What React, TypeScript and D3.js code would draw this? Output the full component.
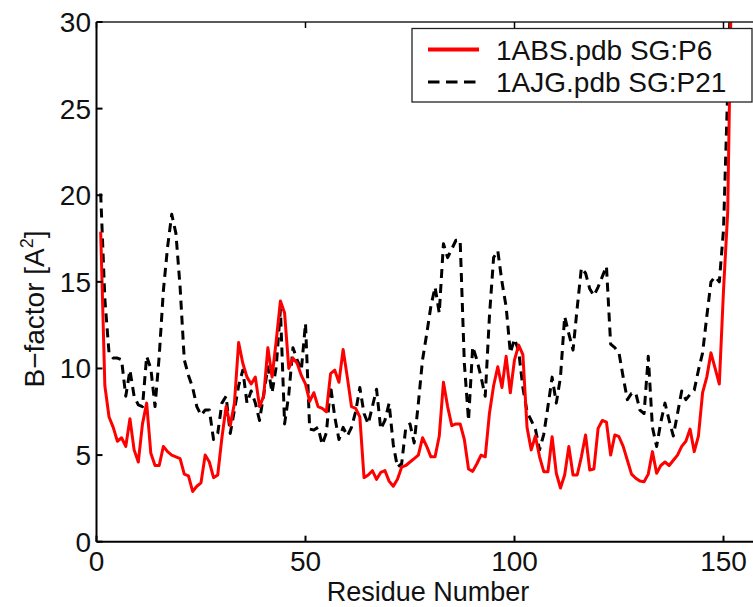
import React from "react";
import * as d3 from "d3";

const residues: number[] = Array.from({ length: 152 }, (_, i) => i + 1);

const abs1: number[] = [
  17.9, 9.0, 7.2, 6.6, 5.8, 6.0, 5.5, 7.1, 5.3, 4.6,
  6.8, 8.0, 5.1, 4.4, 4.4, 5.5, 5.2, 5.0, 4.9, 4.8,
  3.9, 3.8, 2.9, 3.2, 3.4, 5.0, 4.6, 3.7, 3.85, 6.0,
  7.8, 6.7, 8.0, 11.5, 10.3, 9.5, 9.1, 9.5, 7.8, 8.4,
  11.2, 9.5, 11.6, 13.9, 13.2, 10.0, 10.6, 10.3, 9.6, 9.1,
  8.1, 8.6, 7.8, 7.7, 7.5, 9.7, 9.9, 9.2, 11.1, 9.5,
  7.8, 7.7, 7.2, 3.7, 3.85, 4.1, 3.6, 4.0, 4.1, 3.5,
  3.2, 3.6, 4.3, 4.4, 4.6, 4.8, 5.0, 6.0, 5.5, 4.9,
  4.9, 6.1, 9.2, 7.8, 6.7, 6.8, 6.8, 5.9, 4.2, 4.06,
  4.5, 5.0, 4.9, 7.4, 9.0, 10.1, 8.9, 10.7, 8.6, 10.5,
  11.35, 10.8, 6.6, 5.3, 6.1, 4.9, 4.04, 4.04, 6.06, 3.95,
  3.1, 3.85, 5.5, 3.85, 3.85, 4.9, 6.16, 4.14, 4.2, 6.54,
  7.0, 6.9, 5.0, 6.16, 6.06, 5.5, 4.7, 3.9, 3.66, 3.5,
  3.46, 3.9, 5.2, 3.95, 4.4, 4.6, 4.4, 4.7, 5.0, 5.5,
  5.8, 6.5, 5.2, 6.1, 8.6, 9.5, 10.9, 10.0, 9.1, 14.5,
  19.0, 34.0,
];

const ajg1: number[] = [
  20.1, 14.0, 10.9, 10.6, 10.6, 10.5, 8.4, 9.9, 8.4, 7.9,
  7.8, 10.7, 10.0, 7.8, 10.7, 14.5, 17.0, 18.9, 17.8, 14.7,
  10.5, 9.6, 8.9, 7.8, 7.3, 7.6, 7.6, 5.9, 6.25, 8.0,
  8.4, 6.25, 7.6, 9.0, 9.9, 8.0, 8.7, 8.0, 7.0, 8.5,
  10.1, 8.6, 10.1, 13.4, 6.8, 8.5, 11.2, 10.5, 9.9, 12.6,
  6.5, 6.45, 6.6, 5.6, 6.3, 9.0, 7.2, 5.9, 6.6, 6.1,
  6.6, 7.5, 8.9, 7.4, 6.8, 7.8, 8.8, 6.5, 7.0, 8.0,
  5.6, 4.3, 4.5, 6.6, 6.8, 5.7, 8.0, 10.5, 12.0, 13.6,
  14.7, 13.2, 17.2, 16.4, 16.9, 17.4, 17.4, 10.3, 7.0, 11.25,
  10.5, 9.5, 8.4, 13.0, 16.4, 16.8, 15.0, 13.56, 10.9, 11.7,
  11.0, 8.9, 7.5, 7.0, 6.5, 5.3, 6.2, 7.8, 9.5, 8.0,
  9.5, 13.0, 12.0, 11.06, 13.5, 15.8, 15.5, 14.6, 14.2, 14.7,
  15.3, 15.9, 11.4, 11.2, 10.9, 9.5, 8.2, 8.56, 8.6, 7.6,
  7.4, 10.7, 6.6, 5.5, 6.9, 8.0, 7.0, 6.1, 7.4, 8.7,
  8.2, 8.5, 8.75, 9.9, 10.9, 13.0, 15.0, 15.3, 15.0, 18.0,
  26.0, 34.0,
];

const xTicks: number[] = [0, 50, 100, 150];
const yTicks: number[] = [0, 5, 10, 15, 20, 25, 30];
const seriesNames: string[] = ["1ABS.pdb SG:P6", "1AJG.pdb SG:P21"];

const FONT = "'Liberation Sans', Arial, Helvetica, sans-serif";

export default function App() {
  const W = 753;
  const H = 607;
  const left = 96.5;
  const right = 765.3;
  const top = 22;
  const bottom = 541.7;

  const x = d3.scaleLinear().domain([0, 160]).range([left, right]);
  const y = d3.scaleLinear().domain([0, 30]).range([bottom, top]);

  const line = d3
    .line<number>()
    .x((_, i) => x(residues[i]))
    .y((d) => y(d));

  const redPath = line(abs1) || "";
  const blackPath = line(ajg1) || "";

  const tickLen = 6;

  return (
    <svg
      width={W}
      height={H}
      style={{ position: "absolute", left: 0, top: 0, background: "#fff" }}
      xmlns="http://www.w3.org/2000/svg"
    >
      <defs>
        <clipPath id="plotclip">
          <rect x={left} y={top} width={right - left} height={bottom - top} />
        </clipPath>
      </defs>
      <rect x={0} y={0} width={W} height={H} fill="#fff" />

      <g clipPath="url(#plotclip)">
        <path
          d={blackPath}
          fill="none"
          stroke="#000"
          strokeWidth={3}
          strokeDasharray="9,6"
          strokeLinejoin="round"
        />
        <path
          d={redPath}
          fill="none"
          stroke="#ff0000"
          strokeWidth={3}
          strokeLinejoin="round"
        />
      </g>

      {/* frame */}
      <line x1={left} x2={right} y1={top} y2={top} stroke="#222" strokeWidth={1.3} />
      <line x1={right} x2={right} y1={top} y2={bottom} stroke="#222" strokeWidth={1.3} />
      <line x1={left} x2={left} y1={top} y2={bottom} stroke="#000" strokeWidth={2} />
      <line x1={left} x2={right} y1={bottom} y2={bottom} stroke="#000" strokeWidth={2} />

      {/* x ticks */}
      {xTicks.map((t) => (
        <g key={"xt" + t}>
          <line x1={x(t)} x2={x(t)} y1={bottom} y2={bottom - tickLen} stroke="#000" strokeWidth={2} />
          <line x1={x(t)} x2={x(t)} y1={top} y2={top + tickLen} stroke="#000" strokeWidth={1.5} />
          <text
            x={x(t)}
            y={571}
            textAnchor="middle"
            fontFamily={FONT}
            fontSize={28}
            fill="#111"
          >
            {t}
          </text>
        </g>
      ))}

      {/* y ticks */}
      {yTicks.map((t) => (
        <g key={"yt" + t}>
          <line x1={left} x2={left + tickLen} y1={y(t)} y2={y(t)} stroke="#000" strokeWidth={2} />
          <text
            x={91}
            y={y(t) + 10}
            textAnchor="end"
            fontFamily={FONT}
            fontSize={28}
            fill="#111"
          >
            {t}
          </text>
        </g>
      ))}

      {/* axis labels */}
      <text x={428} y={601} textAnchor="middle" fontFamily={FONT} fontSize={27} fill="#111">
        Residue Number
      </text>
      <text
        transform="translate(44,309) rotate(-90)"
        textAnchor="middle"
        fontFamily={FONT}
        fontSize={28}
        fill="#111"
      >
        B−factor [A
        <tspan fontSize={18} dy={-11}>2</tspan>
        <tspan dy={11}>]</tspan>
      </text>

      {/* legend */}
      <rect x={412} y={28.5} width={340} height={73.5} fill="#fff" stroke="#222" strokeWidth={1.3} />
      <line x1={428} x2={479} y1={49.5} y2={49.5} stroke="#ff0000" strokeWidth={4} />
      <line x1={428} x2={479} y1={82} y2={82} stroke="#000" strokeWidth={3} strokeDasharray="11.5,6.5" />
      <text x={496} y={59.5} fontFamily={FONT} fontSize={28} fill="#111">
        {seriesNames[0]}
      </text>
      <text x={496} y={92} fontFamily={FONT} fontSize={28} fill="#111">
        {seriesNames[1]}
      </text>
    </svg>
  );
}
